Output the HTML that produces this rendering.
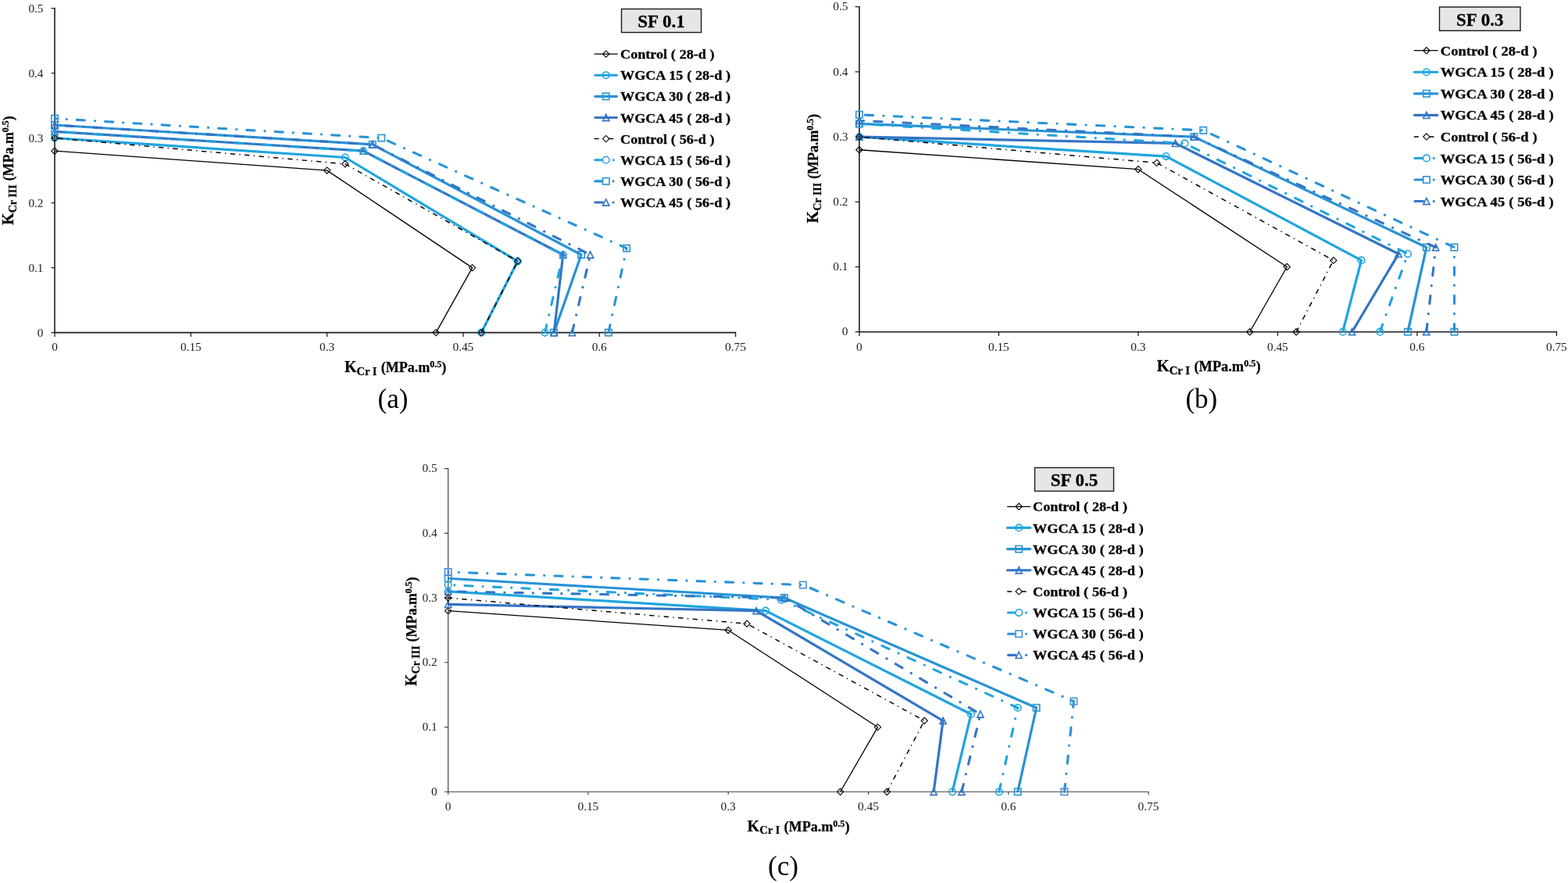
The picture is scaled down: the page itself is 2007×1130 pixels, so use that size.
<!DOCTYPE html>
<html lang="en">
<head>
<meta charset="utf-8">
<title>Fracture toughness envelopes</title>
<style>
html,body{margin:0;padding:0;background:#fff;}
body{width:2007px;height:1130px;overflow:hidden;}
svg{display:block;filter:blur(0.4px);}
text{font-family:"Liberation Serif","Times New Roman",serif;fill:#000;}
.tick text{font-size:15.3px;fill:#1a1a1a;}
.leg{font-size:16.8px;font-weight:bold;word-spacing:0.3px;stroke:#000;stroke-width:0.3px;}
.ttl{font-size:23px;font-weight:bold;stroke:#000;stroke-width:0.3px;}
.axt{font-size:18px;font-weight:bold;stroke:#000;stroke-width:0.25px;}
.axt .k{font-size:20px;}
.axt .sub{font-size:14.5px;}
.axt .sub.y{font-size:14px;}
.axt .sup{font-size:12px;}
.cap{font-size:35px;}
</style>
</head>
<body>
<svg width="2007" height="1130" viewBox="0 0 2007 1130">
<rect width="2007" height="1130" fill="#fff"/>
<g id="chart-a">
<g stroke="#1c1c1c" stroke-width="1.6" fill="none">
<path d="M70 9.8V426.4"/>
<path d="M69.2 425.6H942.3"/>
<path d="M65.6 425.6H70M65.6 342.6H70M65.6 259.6H70M65.6 176.6H70M65.6 93.6H70M65.6 10.6H70M70 425.6V431M244.3 425.6V431M418.6 425.6V431M592.9 425.6V431M767.2 425.6V431M941.5 425.6V431" stroke-width="1.25"/>
</g>
<g class="tick">
<text x="55.5" y="430.75" text-anchor="end">0</text>
<text x="55.5" y="347.75" text-anchor="end">0.1</text>
<text x="55.5" y="264.75" text-anchor="end">0.2</text>
<text x="55.5" y="181.75" text-anchor="end">0.3</text>
<text x="55.5" y="98.75" text-anchor="end">0.4</text>
<text x="55.5" y="15.75" text-anchor="end">0.5</text>
<text x="70" y="449.3" text-anchor="middle">0</text>
<text x="244.3" y="449.3" text-anchor="middle">0.15</text>
<text x="418.6" y="449.3" text-anchor="middle">0.3</text>
<text x="592.9" y="449.3" text-anchor="middle">0.45</text>
<text x="767.2" y="449.3" text-anchor="middle">0.6</text>
<text x="941.5" y="449.3" text-anchor="middle">0.75</text>
</g>
<polyline transform="translate(70 425.6) scale(1.0 1.0)" points="0,-232.4 348.6,-207.5 534.52,-83 488.04,0" fill="none" stroke="#000000" stroke-width="1.3" stroke-linejoin="round"/>
<path d="M65.85 193.2L70 189.05L74.15 193.2L70 197.35Z" fill="none" stroke="#000000" stroke-width="1.1"/>
<path d="M414.45 218.1L418.6 213.95L422.75 218.1L418.6 222.25Z" fill="none" stroke="#000000" stroke-width="1.1"/>
<path d="M600.37 342.6L604.52 338.45L608.67 342.6L604.52 346.75Z" fill="none" stroke="#000000" stroke-width="1.1"/>
<path d="M553.89 425.6L558.04 421.45L562.19 425.6L558.04 429.75Z" fill="none" stroke="#000000" stroke-width="1.1"/>
<polyline transform="translate(70 425.6) scale(1.0 1.0)" points="0,-249 371.84,-224.1 592.62,-91.3 546.14,0" fill="none" stroke="#20a5df" stroke-width="3.2" stroke-linejoin="round"/>
<circle cx="70" cy="176.6" r="4.3" fill="none" stroke="#20a5df" stroke-width="1.6"/>
<circle cx="441.84" cy="201.5" r="4.3" fill="none" stroke="#20a5df" stroke-width="1.6"/>
<circle cx="662.62" cy="334.3" r="4.3" fill="none" stroke="#20a5df" stroke-width="1.6"/>
<circle cx="616.14" cy="425.6" r="4.3" fill="none" stroke="#20a5df" stroke-width="1.6"/>
<polyline transform="translate(70 425.6) scale(1.0 1.0)" points="0,-265.6 406.7,-240.7 673.96,-99.6 639.1,0" fill="none" stroke="#2893d6" stroke-width="3.2" stroke-linejoin="round"/>
<rect x="65.8" y="155.8" width="8.4" height="8.4" fill="none" stroke="#2893d6" stroke-width="1.6"/>
<rect x="472.5" y="180.7" width="8.4" height="8.4" fill="none" stroke="#2893d6" stroke-width="1.6"/>
<rect x="739.76" y="321.8" width="8.4" height="8.4" fill="none" stroke="#2893d6" stroke-width="1.6"/>
<rect x="704.9" y="421.4" width="8.4" height="8.4" fill="none" stroke="#2893d6" stroke-width="1.6"/>
<polyline transform="translate(70 425.6) scale(1.0 1.0)" points="0,-257.3 395.08,-232.4 650.72,-99.6 639.1,0" fill="none" stroke="#3475c5" stroke-width="3.2" stroke-linejoin="round"/>
<path d="M70 164.2L74.1 172.4L65.9 172.4Z" fill="none" stroke="#3475c5" stroke-width="1.6"/>
<path d="M465.08 189.1L469.18 197.3L460.98 197.3Z" fill="none" stroke="#3475c5" stroke-width="1.6"/>
<path d="M720.72 321.9L724.82 330.1L716.62 330.1Z" fill="none" stroke="#3475c5" stroke-width="1.6"/>
<path d="M709.1 421.5L713.2 429.7L705 429.7Z" fill="none" stroke="#3475c5" stroke-width="1.6"/>
<polyline transform="translate(70 425.6) scale(1.0 1.0)" points="546.14,0 592.62,-91.3 371.84,-215.8 0,-249" fill="none" stroke="#000000" stroke-width="1.5" stroke-linejoin="round" stroke-dasharray="5.2 6.53 0.18 6.53" stroke-dashoffset="0" stroke-linecap="round"/>
<path d="M65.85 176.6L70 172.45L74.15 176.6L70 180.75Z" fill="none" stroke="#000000" stroke-width="1.1"/>
<path d="M437.69 209.8L441.84 205.65L445.99 209.8L441.84 213.95Z" fill="none" stroke="#000000" stroke-width="1.1"/>
<path d="M658.47 334.3L662.62 330.15L666.77 334.3L662.62 338.45Z" fill="none" stroke="#000000" stroke-width="1.1"/>
<path d="M611.99 425.6L616.14 421.45L620.29 425.6L616.14 429.75Z" fill="none" stroke="#000000" stroke-width="1.1"/>
<polyline transform="translate(70 425.6) scale(1.0 1.0)" points="627.48,0 650.72,-99.6 395.08,-232.4 0,-257.3" fill="none" stroke="#20a5df" stroke-width="3.1" stroke-linejoin="round" stroke-dasharray="10.1 13 0.2 13" stroke-dashoffset="0" stroke-linecap="round"/>
<circle cx="70" cy="168.3" r="4.3" fill="none" stroke="#20a5df" stroke-width="1.6"/>
<circle cx="465.08" cy="193.2" r="4.3" fill="none" stroke="#20a5df" stroke-width="1.6"/>
<circle cx="720.72" cy="326" r="4.3" fill="none" stroke="#20a5df" stroke-width="1.6"/>
<circle cx="697.48" cy="425.6" r="4.3" fill="none" stroke="#20a5df" stroke-width="1.6"/>
<polyline transform="translate(70 425.6) scale(1.0 1.0)" points="708.82,0 732.06,-107.9 418.32,-249 0,-273.9" fill="none" stroke="#2893d6" stroke-width="3.1" stroke-linejoin="round" stroke-dasharray="10.1 13 0.2 13" stroke-dashoffset="0" stroke-linecap="round"/>
<rect x="65.8" y="147.5" width="8.4" height="8.4" fill="none" stroke="#2893d6" stroke-width="1.6"/>
<rect x="484.12" y="172.4" width="8.4" height="8.4" fill="none" stroke="#2893d6" stroke-width="1.6"/>
<rect x="797.86" y="313.5" width="8.4" height="8.4" fill="none" stroke="#2893d6" stroke-width="1.6"/>
<rect x="774.62" y="421.4" width="8.4" height="8.4" fill="none" stroke="#2893d6" stroke-width="1.6"/>
<polyline transform="translate(70 425.6) scale(1.0 1.0)" points="662.34,0 685.58,-99.6 406.7,-240.7 0,-265.6" fill="none" stroke="#3475c5" stroke-width="3.1" stroke-linejoin="round" stroke-dasharray="10.1 13 0.2 13" stroke-dashoffset="0" stroke-linecap="round"/>
<path d="M70 155.9L74.1 164.1L65.9 164.1Z" fill="none" stroke="#3475c5" stroke-width="1.6"/>
<path d="M476.7 180.8L480.8 189L472.6 189Z" fill="none" stroke="#3475c5" stroke-width="1.6"/>
<path d="M755.58 321.9L759.68 330.1L751.48 330.1Z" fill="none" stroke="#3475c5" stroke-width="1.6"/>
<path d="M732.34 421.5L736.44 429.7L728.24 429.7Z" fill="none" stroke="#3475c5" stroke-width="1.6"/>
<rect x="795.5" y="11.5" width="102" height="30" fill="#e6e6e6" stroke="#1a1a1a" stroke-width="1.4"/>
<text class="ttl" x="846.5" y="34.5" text-anchor="middle">SF 0.1</text>
<path d="M760.95 69.1H790.35" stroke="#000000" stroke-width="1.3" stroke-linecap="round" fill="none"/>
<path d="M771.5 69.1L775.65 64.95L779.8 69.1L775.65 73.25Z" fill="none" stroke="#000000" stroke-width="1.1"/>
<text class="leg" x="794.1" y="75.2" textLength="120.5" lengthAdjust="spacingAndGlyphs">Control ( 28-d )</text>
<path d="M761.9 96.23H789.4" stroke="#20a5df" stroke-width="3.2" stroke-linecap="round" fill="none"/>
<circle cx="775.65" cy="96.23" r="4.3" fill="none" stroke="#20a5df" stroke-width="1.6"/>
<text class="leg" x="794.1" y="102.33" textLength="141" lengthAdjust="spacingAndGlyphs">WGCA 15 ( 28-d )</text>
<path d="M761.9 123.36H789.4" stroke="#2893d6" stroke-width="3.2" stroke-linecap="round" fill="none"/>
<rect x="771.45" y="119.16" width="8.4" height="8.4" fill="none" stroke="#2893d6" stroke-width="1.6"/>
<text class="leg" x="794.1" y="129.46" textLength="141" lengthAdjust="spacingAndGlyphs">WGCA 30 ( 28-d )</text>
<path d="M761.9 150.49H789.4" stroke="#3475c5" stroke-width="3.2" stroke-linecap="round" fill="none"/>
<path d="M775.65 146.39L779.75 154.59L771.55 154.59Z" fill="none" stroke="#3475c5" stroke-width="1.6"/>
<text class="leg" x="794.1" y="156.59" textLength="141" lengthAdjust="spacingAndGlyphs">WGCA 45 ( 28-d )</text>
<path d="M761.1 177.62H766.1M778.35 177.62H784.55" stroke="#000000" stroke-width="1.5" stroke-linecap="round" fill="none"/>
<path d="M771.5 177.62L775.65 173.47L779.8 177.62L775.65 181.77Z" fill="#fff" stroke="#000000" stroke-width="1.1"/>
<text class="leg" x="794.1" y="183.72" textLength="120.5" lengthAdjust="spacingAndGlyphs">Control ( 56-d )</text>
<path d="M761.8 204.75H771.35M784.95 204.75H785.05" stroke="#20a5df" stroke-width="3.1" stroke-linecap="round" fill="none"/>
<circle cx="775.65" cy="204.75" r="4.3" fill="#fff" stroke="#20a5df" stroke-width="1.6"/>
<text class="leg" x="794.1" y="210.85" textLength="141" lengthAdjust="spacingAndGlyphs">WGCA 15 ( 56-d )</text>
<path d="M761.8 231.88H771.35M784.95 231.88H785.05" stroke="#2893d6" stroke-width="3.1" stroke-linecap="round" fill="none"/>
<rect x="771.45" y="227.68" width="8.4" height="8.4" fill="#fff" stroke="#2893d6" stroke-width="1.6"/>
<text class="leg" x="794.1" y="237.98" textLength="141" lengthAdjust="spacingAndGlyphs">WGCA 30 ( 56-d )</text>
<path d="M761.8 259.01H771.35M784.95 259.01H785.05" stroke="#3475c5" stroke-width="3.1" stroke-linecap="round" fill="none"/>
<path d="M775.65 254.91L779.75 263.11L771.55 263.11Z" fill="#fff" stroke="#3475c5" stroke-width="1.6"/>
<text class="leg" x="794.1" y="265.11" textLength="141" lengthAdjust="spacingAndGlyphs">WGCA 45 ( 56-d )</text>
<text class="axt" transform="translate(441 476) scale(1.0 1)"><tspan class="k">K</tspan><tspan class="sub" dy="3.8">Cr I</tspan><tspan dy="-3.8" dx="0.8"> (MPa.m</tspan><tspan class="sup" dy="-6">0.5</tspan><tspan dy="6">)</tspan></text>
<text class="axt" text-anchor="middle" transform="translate(17 218) rotate(-90)"><tspan class="k">K</tspan><tspan class="sub y" dy="3.8">Cr III</tspan><tspan dy="-3.8" dx="0.3"> (MPa.m</tspan><tspan class="sup" dy="-6">0.5</tspan><tspan dy="6">)</tspan></text>
<text class="cap" x="503" y="522" text-anchor="middle">(a)</text>
</g>
<g id="chart-b">
<g stroke="#1c1c1c" stroke-width="1.6" fill="none">
<path d="M1099.9 7.9V425.5"/>
<path d="M1099.1 424.7H1993.2"/>
<path d="M1094.6 424.7H1099.9M1094.6 341.5H1099.9M1094.6 258.3H1099.9M1094.6 175.1H1099.9M1094.6 91.9H1099.9M1094.6 8.7H1099.9M1099.9 424.7V430M1278.4 424.7V430M1456.9 424.7V430M1635.4 424.7V430M1813.9 424.7V430M1992.4 424.7V430" stroke-width="1.25"/>
</g>
<g class="tick">
<text x="1085.4" y="429.35" text-anchor="end">0</text>
<text x="1085.4" y="346.15" text-anchor="end">0.1</text>
<text x="1085.4" y="262.95" text-anchor="end">0.2</text>
<text x="1085.4" y="179.75" text-anchor="end">0.3</text>
<text x="1085.4" y="96.55" text-anchor="end">0.4</text>
<text x="1085.4" y="13.35" text-anchor="end">0.5</text>
<text x="1099.9" y="448.6" text-anchor="middle">0</text>
<text x="1278.4" y="448.6" text-anchor="middle">0.15</text>
<text x="1456.9" y="448.6" text-anchor="middle">0.3</text>
<text x="1635.4" y="448.6" text-anchor="middle">0.45</text>
<text x="1813.9" y="448.6" text-anchor="middle">0.6</text>
<text x="1992.4" y="448.6" text-anchor="middle">0.75</text>
</g>
<polyline transform="translate(1099.9 424.7) scale(1.0207 1.0)" points="0,-232.96 349.76,-208 536.3,-83.2 489.66,0" fill="none" stroke="#000000" stroke-width="1.3" stroke-linejoin="round"/>
<path d="M1095.75 191.74L1099.9 187.59L1104.05 191.74L1099.9 195.89Z" fill="none" stroke="#000000" stroke-width="1.1"/>
<path d="M1452.75 216.7L1456.9 212.55L1461.05 216.7L1456.9 220.85Z" fill="none" stroke="#000000" stroke-width="1.1"/>
<path d="M1643.15 341.5L1647.3 337.35L1651.45 341.5L1647.3 345.65Z" fill="none" stroke="#000000" stroke-width="1.1"/>
<path d="M1595.55 424.7L1599.7 420.55L1603.85 424.7L1599.7 428.85Z" fill="none" stroke="#000000" stroke-width="1.1"/>
<polyline transform="translate(1099.9 424.7) scale(1.0207 1.0)" points="0,-249.6 384.74,-224.64 629.57,-91.52 606.25,0" fill="none" stroke="#20a5df" stroke-width="3.2" stroke-linejoin="round"/>
<circle cx="1099.9" cy="175.1" r="4.3" fill="none" stroke="#20a5df" stroke-width="1.6"/>
<circle cx="1492.6" cy="200.06" r="4.3" fill="none" stroke="#20a5df" stroke-width="1.6"/>
<circle cx="1742.5" cy="333.18" r="4.3" fill="none" stroke="#20a5df" stroke-width="1.6"/>
<circle cx="1718.7" cy="424.7" r="4.3" fill="none" stroke="#20a5df" stroke-width="1.6"/>
<polyline transform="translate(1099.9 424.7) scale(1.0207 1.0)" points="0,-266.24 419.71,-249.6 711.18,-108.16 687.86,0" fill="none" stroke="#2893d6" stroke-width="3.2" stroke-linejoin="round"/>
<rect x="1095.7" y="154.26" width="8.4" height="8.4" fill="none" stroke="#2893d6" stroke-width="1.6"/>
<rect x="1524.1" y="170.9" width="8.4" height="8.4" fill="none" stroke="#2893d6" stroke-width="1.6"/>
<rect x="1821.6" y="312.34" width="8.4" height="8.4" fill="none" stroke="#2893d6" stroke-width="1.6"/>
<rect x="1797.8" y="420.5" width="8.4" height="8.4" fill="none" stroke="#2893d6" stroke-width="1.6"/>
<polyline transform="translate(1099.9 424.7) scale(1.0207 1.0)" points="0,-249.6 396.39,-241.28 676.2,-99.84 617.91,0" fill="none" stroke="#3475c5" stroke-width="3.2" stroke-linejoin="round"/>
<path d="M1099.9 171L1104 179.2L1095.8 179.2Z" fill="none" stroke="#3475c5" stroke-width="1.6"/>
<path d="M1504.5 179.32L1508.6 187.52L1500.4 187.52Z" fill="none" stroke="#3475c5" stroke-width="1.6"/>
<path d="M1790.1 320.76L1794.2 328.96L1786 328.96Z" fill="none" stroke="#3475c5" stroke-width="1.6"/>
<path d="M1730.6 420.6L1734.7 428.8L1726.5 428.8Z" fill="none" stroke="#3475c5" stroke-width="1.6"/>
<polyline transform="translate(1099.9 424.7) scale(1.0207 1.0)" points="547.96,0 594.59,-91.52 373.08,-216.32 0,-249.6" fill="none" stroke="#000000" stroke-width="1.5" stroke-linejoin="round" stroke-dasharray="5.2 6.53 0.18 6.53" stroke-dashoffset="0" stroke-linecap="round"/>
<path d="M1095.75 175.1L1099.9 170.95L1104.05 175.1L1099.9 179.25Z" fill="none" stroke="#000000" stroke-width="1.1"/>
<path d="M1476.55 208.38L1480.7 204.23L1484.85 208.38L1480.7 212.53Z" fill="none" stroke="#000000" stroke-width="1.1"/>
<path d="M1702.65 333.18L1706.8 329.03L1710.95 333.18L1706.8 337.33Z" fill="none" stroke="#000000" stroke-width="1.1"/>
<path d="M1655.05 424.7L1659.2 420.55L1663.35 424.7L1659.2 428.85Z" fill="none" stroke="#000000" stroke-width="1.1"/>
<polyline transform="translate(1099.9 424.7) scale(1.0207 1.0)" points="652.89,0 687.86,-99.84 408.05,-241.28 0,-266.24" fill="none" stroke="#20a5df" stroke-width="3.1" stroke-linejoin="round" stroke-dasharray="10.1 13 0.2 13" stroke-dashoffset="0" stroke-linecap="round"/>
<circle cx="1099.9" cy="158.46" r="4.3" fill="none" stroke="#20a5df" stroke-width="1.6"/>
<circle cx="1516.4" cy="183.42" r="4.3" fill="none" stroke="#20a5df" stroke-width="1.6"/>
<circle cx="1802" cy="324.86" r="4.3" fill="none" stroke="#20a5df" stroke-width="1.6"/>
<circle cx="1766.3" cy="424.7" r="4.3" fill="none" stroke="#20a5df" stroke-width="1.6"/>
<polyline transform="translate(1099.9 424.7) scale(1.0207 1.0)" points="746.15,0 746.15,-108.16 431.37,-257.92 0,-277.89" fill="none" stroke="#2893d6" stroke-width="3.1" stroke-linejoin="round" stroke-dasharray="10.1 13 0.2 13" stroke-dashoffset="0" stroke-linecap="round"/>
<rect x="1095.7" y="142.61" width="8.4" height="8.4" fill="none" stroke="#2893d6" stroke-width="1.6"/>
<rect x="1536" y="162.58" width="8.4" height="8.4" fill="none" stroke="#2893d6" stroke-width="1.6"/>
<rect x="1857.3" y="312.34" width="8.4" height="8.4" fill="none" stroke="#2893d6" stroke-width="1.6"/>
<rect x="1857.3" y="420.5" width="8.4" height="8.4" fill="none" stroke="#2893d6" stroke-width="1.6"/>
<polyline transform="translate(1099.9 424.7) scale(1.0207 1.0)" points="711.18,0 722.84,-108.16 419.71,-249.6 0,-270.4" fill="none" stroke="#3475c5" stroke-width="3.1" stroke-linejoin="round" stroke-dasharray="10.1 13 0.2 13" stroke-dashoffset="0" stroke-linecap="round"/>
<path d="M1099.9 150.2L1104 158.4L1095.8 158.4Z" fill="none" stroke="#3475c5" stroke-width="1.6"/>
<path d="M1528.3 171L1532.4 179.2L1524.2 179.2Z" fill="none" stroke="#3475c5" stroke-width="1.6"/>
<path d="M1837.7 312.44L1841.8 320.64L1833.6 320.64Z" fill="none" stroke="#3475c5" stroke-width="1.6"/>
<path d="M1825.8 420.6L1829.9 428.8L1821.7 428.8Z" fill="none" stroke="#3475c5" stroke-width="1.6"/>
<rect x="1842.5" y="9" width="103.5" height="30.3" fill="#e6e6e6" stroke="#1a1a1a" stroke-width="1.4"/>
<text class="ttl" x="1894.25" y="32.95" text-anchor="middle">SF 0.3</text>
<path d="M1810.15 64.7H1840.15" stroke="#000000" stroke-width="1.3" stroke-linecap="round" fill="none"/>
<path d="M1821.75 64.7L1825.9 60.55L1830.05 64.7L1825.9 68.85Z" fill="none" stroke="#000000" stroke-width="1.1"/>
<text class="leg" x="1843.8" y="70.8" textLength="123.8" lengthAdjust="spacingAndGlyphs">Control ( 28-d )</text>
<path d="M1810.5 92.25H1839.8" stroke="#20a5df" stroke-width="3.2" stroke-linecap="round" fill="none"/>
<circle cx="1825.9" cy="92.25" r="4.3" fill="none" stroke="#20a5df" stroke-width="1.6"/>
<text class="leg" x="1843.8" y="98.35" textLength="144.8" lengthAdjust="spacingAndGlyphs">WGCA 15 ( 28-d )</text>
<path d="M1810.5 119.8H1839.8" stroke="#2893d6" stroke-width="3.2" stroke-linecap="round" fill="none"/>
<rect x="1821.7" y="115.6" width="8.4" height="8.4" fill="none" stroke="#2893d6" stroke-width="1.6"/>
<text class="leg" x="1843.8" y="125.9" textLength="144.8" lengthAdjust="spacingAndGlyphs">WGCA 30 ( 28-d )</text>
<path d="M1810.5 147.35H1839.8" stroke="#3475c5" stroke-width="3.2" stroke-linecap="round" fill="none"/>
<path d="M1825.9 143.25L1830 151.45L1821.8 151.45Z" fill="none" stroke="#3475c5" stroke-width="1.6"/>
<text class="leg" x="1843.8" y="153.45" textLength="144.8" lengthAdjust="spacingAndGlyphs">WGCA 45 ( 28-d )</text>
<path d="M1810.3 174.9H1815.3M1828.6 174.9H1834.8" stroke="#000000" stroke-width="1.5" stroke-linecap="round" fill="none"/>
<path d="M1821.75 174.9L1825.9 170.75L1830.05 174.9L1825.9 179.05Z" fill="#fff" stroke="#000000" stroke-width="1.1"/>
<text class="leg" x="1843.8" y="181" textLength="123.8" lengthAdjust="spacingAndGlyphs">Control ( 56-d )</text>
<path d="M1811 202.45H1821.6M1835.2 202.45H1835.3" stroke="#20a5df" stroke-width="3.1" stroke-linecap="round" fill="none"/>
<circle cx="1825.9" cy="202.45" r="4.3" fill="#fff" stroke="#20a5df" stroke-width="1.6"/>
<text class="leg" x="1843.8" y="208.55" textLength="144.8" lengthAdjust="spacingAndGlyphs">WGCA 15 ( 56-d )</text>
<path d="M1811 230H1821.6M1835.2 230H1835.3" stroke="#2893d6" stroke-width="3.1" stroke-linecap="round" fill="none"/>
<rect x="1821.7" y="225.8" width="8.4" height="8.4" fill="#fff" stroke="#2893d6" stroke-width="1.6"/>
<text class="leg" x="1843.8" y="236.1" textLength="144.8" lengthAdjust="spacingAndGlyphs">WGCA 30 ( 56-d )</text>
<path d="M1811 257.55H1821.6M1835.2 257.55H1835.3" stroke="#3475c5" stroke-width="3.1" stroke-linecap="round" fill="none"/>
<path d="M1825.9 253.45L1830 261.65L1821.8 261.65Z" fill="#fff" stroke="#3475c5" stroke-width="1.6"/>
<text class="leg" x="1843.8" y="263.65" textLength="144.8" lengthAdjust="spacingAndGlyphs">WGCA 45 ( 56-d )</text>
<text class="axt" transform="translate(1480.8 475) scale(1.02 1)"><tspan class="k">K</tspan><tspan class="sub" dy="3.8">Cr I</tspan><tspan dy="-3.8" dx="0.8"> (MPa.m</tspan><tspan class="sup" dy="-6">0.5</tspan><tspan dy="6">)</tspan></text>
<text class="axt" text-anchor="middle" transform="translate(1047 215.5) rotate(-90)"><tspan class="k">K</tspan><tspan class="sub y" dy="3.8">Cr III</tspan><tspan dy="-3.8" dx="0.3"> (MPa.m</tspan><tspan class="sup" dy="-6">0.5</tspan><tspan dy="6">)</tspan></text>
<text class="cap" x="1537.8" y="522" text-anchor="middle">(b)</text>
</g>
<g id="chart-c">
<g stroke="#3c3c3c" stroke-width="1.1" fill="none">
<path d="M573.6 599.05V1013.85"/>
<path d="M573.05 1013.3H1470.55"/>
<path d="M568.7 1013.3H573.6M568.7 930.56H573.6M568.7 847.82H573.6M568.7 765.08H573.6M568.7 682.34H573.6M568.7 599.6H573.6M573.6 1013.3V1017M752.88 1013.3V1017M932.16 1013.3V1017M1111.44 1013.3V1017M1290.72 1013.3V1017M1470 1013.3V1017" stroke-width="1.1"/>
</g>
<g class="tick">
<text x="559.7" y="1017.95" text-anchor="end">0</text>
<text x="559.7" y="935.21" text-anchor="end">0.1</text>
<text x="559.7" y="852.47" text-anchor="end">0.2</text>
<text x="559.7" y="769.73" text-anchor="end">0.3</text>
<text x="559.7" y="686.99" text-anchor="end">0.4</text>
<text x="559.7" y="604.25" text-anchor="end">0.5</text>
<text x="573.6" y="1036.7" text-anchor="middle">0</text>
<text x="752.88" y="1036.7" text-anchor="middle">0.15</text>
<text x="932.16" y="1036.7" text-anchor="middle">0.3</text>
<text x="1111.44" y="1036.7" text-anchor="middle">0.45</text>
<text x="1290.72" y="1036.7" text-anchor="middle">0.6</text>
<text x="1470" y="1036.7" text-anchor="middle">0.75</text>
</g>
<polyline transform="translate(573.6 1013.3) scale(1.005 1.0)" points="0,-231.67 356.78,-206.85 547.06,-82.74 499.49,0" fill="none" stroke="#000000" stroke-width="1.3" stroke-linejoin="round"/>
<path d="M569.45 781.63L573.6 777.48L577.75 781.63L573.6 785.78Z" fill="none" stroke="#000000" stroke-width="1.1"/>
<path d="M928.01 806.45L932.16 802.3L936.31 806.45L932.16 810.6Z" fill="none" stroke="#000000" stroke-width="1.1"/>
<path d="M1119.24 930.56L1123.39 926.41L1127.54 930.56L1123.39 934.71Z" fill="none" stroke="#000000" stroke-width="1.1"/>
<path d="M1071.43 1013.3L1075.58 1009.15L1079.73 1013.3L1075.58 1017.45Z" fill="none" stroke="#000000" stroke-width="1.1"/>
<polyline transform="translate(573.6 1013.3) scale(1.005 1.0)" points="0,-256.49 404.35,-231.67 665.98,-99.29 642.2,0" fill="none" stroke="#20a5df" stroke-width="3.2" stroke-linejoin="round"/>
<circle cx="573.6" cy="756.81" r="4.3" fill="none" stroke="#20a5df" stroke-width="1.6"/>
<circle cx="979.97" cy="781.63" r="4.3" fill="none" stroke="#20a5df" stroke-width="1.6"/>
<circle cx="1242.91" cy="914.01" r="4.3" fill="none" stroke="#20a5df" stroke-width="1.6"/>
<circle cx="1219.01" cy="1013.3" r="4.3" fill="none" stroke="#20a5df" stroke-width="1.6"/>
<polyline transform="translate(573.6 1013.3) scale(1.005 1.0)" points="0,-273.04 428.13,-248.22 749.23,-107.56 725.44,0" fill="none" stroke="#2893d6" stroke-width="3.2" stroke-linejoin="round"/>
<rect x="569.4" y="736.06" width="8.4" height="8.4" fill="none" stroke="#2893d6" stroke-width="1.6"/>
<rect x="999.67" y="760.88" width="8.4" height="8.4" fill="none" stroke="#2893d6" stroke-width="1.6"/>
<rect x="1322.38" y="901.54" width="8.4" height="8.4" fill="none" stroke="#2893d6" stroke-width="1.6"/>
<rect x="1298.47" y="1009.1" width="8.4" height="8.4" fill="none" stroke="#2893d6" stroke-width="1.6"/>
<polyline transform="translate(573.6 1013.3) scale(1.005 1.0)" points="0,-239.95 392.45,-231.67 630.3,-91.01 618.41,0" fill="none" stroke="#3475c5" stroke-width="3.2" stroke-linejoin="round"/>
<path d="M573.6 769.25L577.7 777.45L569.5 777.45Z" fill="none" stroke="#3475c5" stroke-width="1.6"/>
<path d="M968.02 777.53L972.12 785.73L963.92 785.73Z" fill="none" stroke="#3475c5" stroke-width="1.6"/>
<path d="M1207.06 918.19L1211.16 926.39L1202.96 926.39Z" fill="none" stroke="#3475c5" stroke-width="1.6"/>
<path d="M1195.1 1009.2L1199.2 1017.4L1191 1017.4Z" fill="none" stroke="#3475c5" stroke-width="1.6"/>
<polyline transform="translate(573.6 1013.3) scale(1.005 1.0)" points="558.95,0 606.52,-91.01 380.56,-215.12 0,-248.22" fill="none" stroke="#000000" stroke-width="1.5" stroke-linejoin="round" stroke-dasharray="5.2 6.53 0.18 6.53" stroke-dashoffset="0" stroke-linecap="round"/>
<path d="M569.45 765.08L573.6 760.93L577.75 765.08L573.6 769.23Z" fill="none" stroke="#000000" stroke-width="1.1"/>
<path d="M951.91 798.18L956.06 794.03L960.21 798.18L956.06 802.33Z" fill="none" stroke="#000000" stroke-width="1.1"/>
<path d="M1179 922.29L1183.15 918.14L1187.3 922.29L1183.15 926.44Z" fill="none" stroke="#000000" stroke-width="1.1"/>
<path d="M1131.19 1013.3L1135.34 1009.15L1139.49 1013.3L1135.34 1017.45Z" fill="none" stroke="#000000" stroke-width="1.1"/>
<polyline transform="translate(573.6 1013.3) scale(1.005 1.0)" points="701.66,0 725.44,-107.56 424.56,-245.74 0,-264.77" fill="none" stroke="#20a5df" stroke-width="3.1" stroke-linejoin="round" stroke-dasharray="10.1 13 0.2 13" stroke-dashoffset="0" stroke-linecap="round"/>
<circle cx="573.6" cy="748.53" r="4.3" fill="none" stroke="#20a5df" stroke-width="1.6"/>
<circle cx="1000.29" cy="767.56" r="4.3" fill="none" stroke="#20a5df" stroke-width="1.6"/>
<circle cx="1302.67" cy="905.74" r="4.3" fill="none" stroke="#20a5df" stroke-width="1.6"/>
<circle cx="1278.77" cy="1013.3" r="4.3" fill="none" stroke="#20a5df" stroke-width="1.6"/>
<polyline transform="translate(573.6 1013.3) scale(1.005 1.0)" points="784.91,0 796.8,-115.84 451.92,-264.77 0,-281.32" fill="none" stroke="#2893d6" stroke-width="3.1" stroke-linejoin="round" stroke-dasharray="10.1 13 0.2 13" stroke-dashoffset="0" stroke-linecap="round"/>
<rect x="569.4" y="727.78" width="8.4" height="8.4" fill="none" stroke="#4c8edb" stroke-width="1.6"/>
<rect x="1023.58" y="744.33" width="8.4" height="8.4" fill="none" stroke="#4c8edb" stroke-width="1.6"/>
<rect x="1370.18" y="893.26" width="8.4" height="8.4" fill="none" stroke="#4c8edb" stroke-width="1.6"/>
<rect x="1358.23" y="1009.1" width="8.4" height="8.4" fill="none" stroke="#4c8edb" stroke-width="1.6"/>
<polyline transform="translate(573.6 1013.3) scale(1.005 1.0)" points="654.09,0 677.87,-99.29 428.13,-248.22 0,-256.49" fill="none" stroke="#3475c5" stroke-width="3.1" stroke-linejoin="round" stroke-dasharray="10.1 13 0.2 13" stroke-dashoffset="0" stroke-linecap="round"/>
<path d="M573.6 752.71L577.7 760.91L569.5 760.91Z" fill="none" stroke="#3475c5" stroke-width="1.6"/>
<path d="M1003.87 760.98L1007.97 769.18L999.77 769.18Z" fill="none" stroke="#3475c5" stroke-width="1.6"/>
<path d="M1254.86 909.91L1258.96 918.11L1250.76 918.11Z" fill="none" stroke="#3475c5" stroke-width="1.6"/>
<path d="M1230.96 1009.2L1235.06 1017.4L1226.86 1017.4Z" fill="none" stroke="#3475c5" stroke-width="1.6"/>
<rect x="1324.5" y="598.5" width="101" height="30" fill="#e6e6e6" stroke="#1a1a1a" stroke-width="1.4"/>
<text class="ttl" x="1375" y="622" text-anchor="middle">SF 0.5</text>
<path d="M1289.55 648.3H1318.75" stroke="#000000" stroke-width="1.3" stroke-linecap="round" fill="none"/>
<path d="M1300 648.3L1304.15 644.15L1308.3 648.3L1304.15 652.45Z" fill="none" stroke="#000000" stroke-width="1.1"/>
<text class="leg" x="1322.1" y="654.4" textLength="121" lengthAdjust="spacingAndGlyphs">Control ( 28-d )</text>
<path d="M1289.5 675.45H1318.8" stroke="#20a5df" stroke-width="3.2" stroke-linecap="round" fill="none"/>
<circle cx="1304.15" cy="675.45" r="4.3" fill="none" stroke="#20a5df" stroke-width="1.6"/>
<text class="leg" x="1322.1" y="681.55" textLength="141.8" lengthAdjust="spacingAndGlyphs">WGCA 15 ( 28-d )</text>
<path d="M1289.5 702.6H1318.8" stroke="#2893d6" stroke-width="3.2" stroke-linecap="round" fill="none"/>
<rect x="1299.95" y="698.4" width="8.4" height="8.4" fill="none" stroke="#2893d6" stroke-width="1.6"/>
<text class="leg" x="1322.1" y="708.7" textLength="141.8" lengthAdjust="spacingAndGlyphs">WGCA 30 ( 28-d )</text>
<path d="M1289.5 729.75H1318.8" stroke="#3475c5" stroke-width="3.2" stroke-linecap="round" fill="none"/>
<path d="M1304.15 725.65L1308.25 733.85L1300.05 733.85Z" fill="none" stroke="#3475c5" stroke-width="1.6"/>
<text class="leg" x="1322.1" y="735.85" textLength="141.8" lengthAdjust="spacingAndGlyphs">WGCA 45 ( 28-d )</text>
<path d="M1289.7 756.9H1294.7M1306.85 756.9H1313.05" stroke="#000000" stroke-width="1.5" stroke-linecap="round" fill="none"/>
<path d="M1300 756.9L1304.15 752.75L1308.3 756.9L1304.15 761.05Z" fill="#fff" stroke="#000000" stroke-width="1.1"/>
<text class="leg" x="1322.1" y="763" textLength="121" lengthAdjust="spacingAndGlyphs">Control ( 56-d )</text>
<path d="M1290.4 784.05H1299.85M1313.45 784.05H1313.55" stroke="#20a5df" stroke-width="3.1" stroke-linecap="round" fill="none"/>
<circle cx="1304.15" cy="784.05" r="4.3" fill="#fff" stroke="#20a5df" stroke-width="1.6"/>
<text class="leg" x="1322.1" y="790.15" textLength="141.8" lengthAdjust="spacingAndGlyphs">WGCA 15 ( 56-d )</text>
<path d="M1290.4 811.2H1299.85M1313.45 811.2H1313.55" stroke="#2893d6" stroke-width="3.1" stroke-linecap="round" fill="none"/>
<rect x="1299.95" y="807" width="8.4" height="8.4" fill="#fff" stroke="#4c8edb" stroke-width="1.6"/>
<text class="leg" x="1322.1" y="817.3" textLength="141.8" lengthAdjust="spacingAndGlyphs">WGCA 30 ( 56-d )</text>
<path d="M1290.4 838.35H1299.85M1313.45 838.35H1313.55" stroke="#3475c5" stroke-width="3.1" stroke-linecap="round" fill="none"/>
<path d="M1304.15 834.25L1308.25 842.45L1300.05 842.45Z" fill="#fff" stroke="#3475c5" stroke-width="1.6"/>
<text class="leg" x="1322.1" y="844.45" textLength="141.8" lengthAdjust="spacingAndGlyphs">WGCA 45 ( 56-d )</text>
<text class="axt" transform="translate(956.6 1063.5) scale(1.005 1)"><tspan class="k">K</tspan><tspan class="sub" dy="3.8">Cr I</tspan><tspan dy="-3.8" dx="0.8"> (MPa.m</tspan><tspan class="sup" dy="-6">0.5</tspan><tspan dy="6">)</tspan></text>
<text class="axt" text-anchor="middle" transform="translate(533 808) rotate(-90)"><tspan class="k">K</tspan><tspan class="sub y" dy="3.8">Cr III</tspan><tspan dy="-3.8" dx="0.3"> (MPa.m</tspan><tspan class="sup" dy="-6">0.5</tspan><tspan dy="6">)</tspan></text>
<text class="cap" x="1002.5" y="1120.4" text-anchor="middle">(c)</text>
</g>
</svg>
</body>
</html>
